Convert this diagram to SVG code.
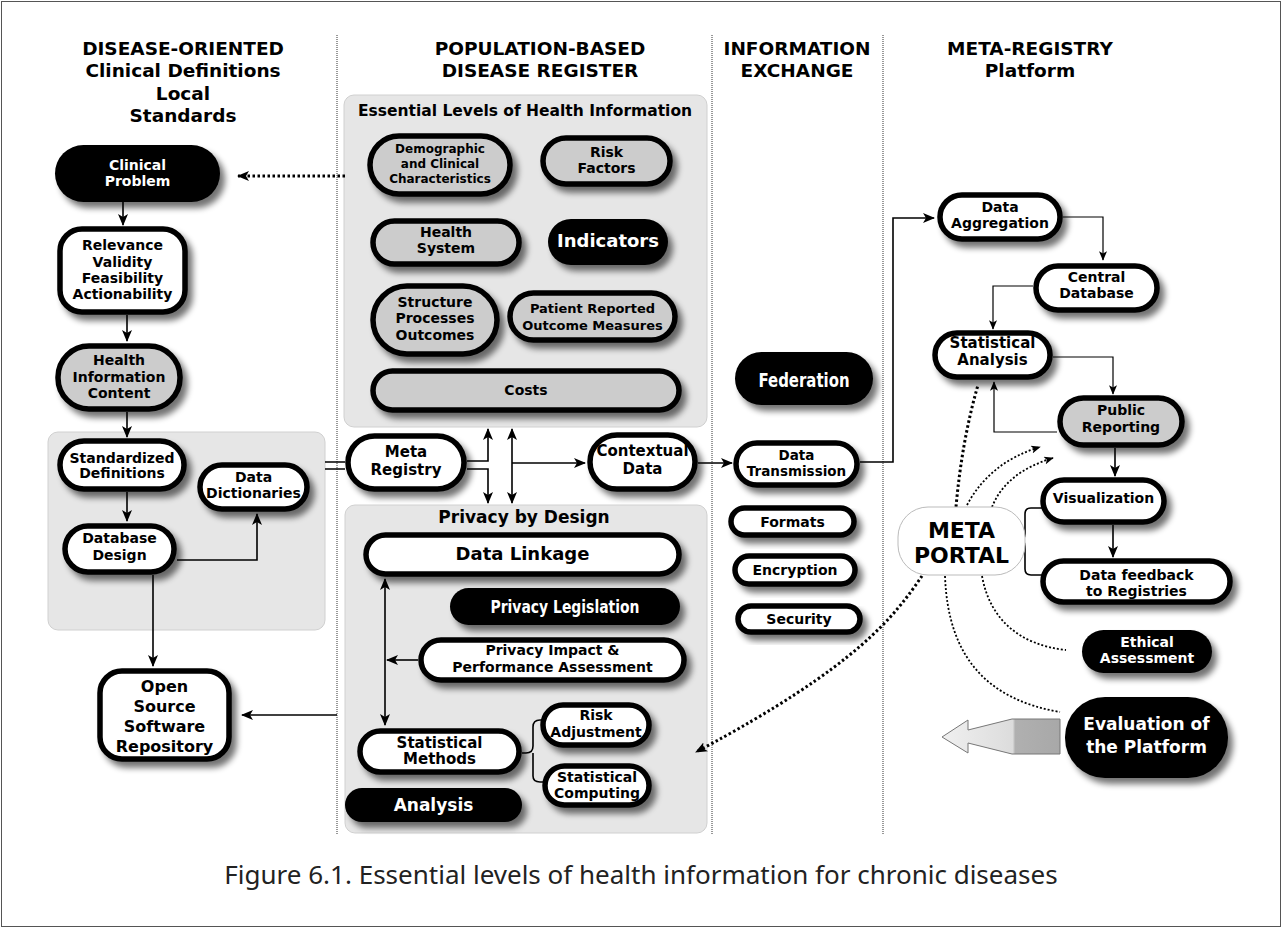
<svg xmlns="http://www.w3.org/2000/svg" width="1282" height="928" viewBox="0 0 1282 928">
<style>
.t{font-family:"DejaVu Sans","Liberation Sans",sans-serif;font-weight:bold;text-anchor:middle;fill:#000}
.tw{fill:#fff}
.w{fill:#fff;stroke:#000;stroke-width:5.5;filter:url(#sh)}
.g{fill:#cccccc;stroke:#000;stroke-width:5.5;filter:url(#sh)}
.b{fill:#000;filter:url(#sh)}
.panel{fill:#e6e6e6;stroke:#d0d0d0;stroke-width:1}
.div{stroke:#333;stroke-width:1;stroke-dasharray:1 1;fill:none}
.c{fill:none;stroke:#000;stroke-width:1.6}
.ct{fill:none;stroke:#000;stroke-width:1.2}
.dt{fill:none;stroke:#000;stroke-width:3;stroke-dasharray:2.5 2.5}
.dn{fill:none;stroke:#000;stroke-width:1.8;stroke-dasharray:2 2}
.cap{font-family:"Noto Sans","Open Sans",sans-serif;font-size:26px;text-anchor:middle;fill:#222}
</style>
<defs>
<filter id="sh" x="-20%" y="-20%" width="150%" height="170%">
<feGaussianBlur in="SourceAlpha" stdDeviation="3"/>
<feOffset dx="5" dy="6" result="o"/>
<feComponentTransfer><feFuncA type="linear" slope="0.55"/></feComponentTransfer>
<feMerge><feMergeNode/><feMergeNode in="SourceGraphic"/></feMerge>
</filter>
<marker id="ar" viewBox="0 0 12 10" refX="11" refY="5" markerWidth="12" markerHeight="10" markerUnits="userSpaceOnUse" orient="auto-start-reverse">
<path d="M0,0 L12,5 L0,10 L3,5 z" fill="#000"/>
</marker>
<marker id="as" viewBox="0 0 12 10" refX="11" refY="5" markerWidth="10" markerHeight="8" markerUnits="userSpaceOnUse" orient="auto-start-reverse">
<path d="M0,0 L12,5 L0,10 L3,5 z" fill="#000"/>
</marker>
<linearGradient id="bg" x1="942" y1="0" x2="1060" y2="0" gradientUnits="userSpaceOnUse">
<stop offset="0" stop-color="#f0f0f0"/>
<stop offset="0.6" stop-color="#dcdcdc"/>
<stop offset="0.62" stop-color="#b0b0b0"/>
<stop offset="1" stop-color="#a8a8a8"/>
</linearGradient>
</defs>
<rect x="0" y="0" width="1282" height="928" fill="#fff"/>
<rect x="1.5" y="1.5" width="1279" height="925" fill="none" stroke="#555" stroke-width="1"/>

<g id="dividers">
<line class="div" x1="337" y1="35" x2="337" y2="835"/>
<line class="div" x1="712" y1="35" x2="712" y2="835"/>
<line class="div" x1="883" y1="35" x2="883" y2="835"/>
</g>

<g id="headers" class="t" font-size="18.5">
<text x="183" y="55">DISEASE-ORIENTED</text>
<text x="183" y="77">Clinical Definitions</text>
<text x="183" y="100">Local</text>
<text x="183" y="122">Standards</text>
<text x="540" y="55">POPULATION-BASED</text>
<text x="540" y="77">DISEASE REGISTER</text>
<text x="797" y="55">INFORMATION</text>
<text x="797" y="77">EXCHANGE</text>
<text x="1030" y="55">META-REGISTRY</text>
<text x="1030" y="77">Platform</text>
</g>

<g id="panel-essential">
<rect class="panel" x="344" y="95" width="363" height="332" rx="10"/>
<text class="t" x="525" y="116" font-size="15.5">Essential Levels of Health Information</text>
</g>
<g id="panel-standards">
<rect class="panel" x="48" y="432" width="277" height="198" rx="10"/>
</g>
<g id="panel-privacy">
<rect class="panel" x="345" y="505" width="362" height="328" rx="10"/>
<text class="t" x="524" y="523" font-size="17">Privacy by Design</text>
</g>

<g id="connectors">
<path class="dt" d="M345,176 H238" marker-end="url(#ar)"/>
<path class="c" d="M123,202 V225" marker-end="url(#ar)"/>
<path class="c" d="M127,315 V341" marker-end="url(#ar)"/>
<path class="c" d="M127,412 V437" marker-end="url(#ar)"/>
<path class="c" d="M127,492 V521" marker-end="url(#ar)"/>
<path class="c" d="M177,560 H257 V514" marker-end="url(#ar)"/>
<path class="c" stroke-width="2" d="M153,575 V666" marker-end="url(#ar)"/>
<path class="c" stroke-width="2" d="M337,715 H242" marker-end="url(#ar)"/>
<path class="c" d="M325,462 H345 M325,469 H345"/>
<path class="c" stroke-width="2" d="M467,461 H488 V429" marker-end="url(#ar)"/>
<path class="c" stroke-width="2" d="M467,469 H488 V503" marker-end="url(#ar)"/>
<path class="c" stroke-width="2" d="M512,429 V503" marker-start="url(#ar)" marker-end="url(#ar)"/>
<path class="c" d="M512,463 H585" marker-end="url(#ar)"/>
<path class="c" d="M698,463 H732" marker-end="url(#ar)"/>
<path class="c" stroke-width="2" d="M385,579 V725" marker-start="url(#ar)" marker-end="url(#ar)"/>
<path class="c" d="M418,660 H387" marker-end="url(#ar)"/>
<path class="c" stroke-width="3" d="M522,753 H526 Q533,753 533,746 V727 Q533,720 540,720 H543 M533,753 Q533,760 533,765 V776 Q533,782 540,782 H545"/>
<path class="c" d="M860,462 H893 V218 H934" marker-end="url(#ar)"/>
<path class="ct" d="M1063,217 H1103 V260" marker-end="url(#as)"/>
<path class="ct" d="M1033,286 H993 V329" marker-end="url(#as)"/>
<path class="ct" d="M1053,357 H1113 V394" marker-end="url(#as)"/>
<path class="ct" d="M1057,432 H994 V382" marker-end="url(#as)"/>
<path class="c" d="M1115,448 V476" marker-end="url(#ar)"/>
<path class="c" d="M1113,525 V557" marker-end="url(#ar)"/>
<path class="c" stroke-width="3.5" d="M1042,508 H1031 Q1025,508 1025,514 V534 Q1025,540 1019,540 Q1025,540 1025,546 V569 Q1025,575 1031,575 H1042"/>
<path class="dt" d="M956,507 Q962,440 978,385"/>
<path class="dn" d="M967,505 Q990,462 1040,447" marker-end="url(#as)"/>
<path class="dn" d="M992,507 Q1006,472 1053,458" marker-end="url(#as)"/>
<path class="dt" d="M922,576 C895,615 860,665 696,752" marker-end="url(#ar)"/>
<path class="dn" d="M945,576 C948,660 990,700 1060,712"/>
<path class="dn" d="M982,576 C990,620 1020,645 1066,650"/>
<polygon points="942,737 968,720 968,730 1012,719 1060,719 1060,754 1012,754 968,743 968,753" fill="url(#bg)" stroke="#777" stroke-width="1"/>
</g>

<g id="clinical-problem"><rect class="b" x="55" y="145" width="165" height="57" rx="28.5"/>
<text class="t tw" font-size="14" x="137.5" y="170">Clinical</text><text class="t tw" font-size="14" x="137.5" y="186">Problem</text></g>
<g id="relevance"><rect class="w" x="60" y="229" width="125" height="83" rx="22"/>
<text class="t" font-size="14" x="122.5" y="250">Relevance</text><text class="t" font-size="14" x="122.5" y="267">Validity</text><text class="t" font-size="14" x="122.5" y="283">Feasibility</text><text class="t" font-size="14" x="122.5" y="299">Actionability</text></g>
<g id="health-info"><rect class="g" x="58" y="346" width="122" height="63" rx="31"/>
<text class="t" font-size="14" x="119" y="365">Health</text><text class="t" font-size="14" x="119" y="382">Information</text><text class="t" font-size="14" x="119" y="398">Content</text></g>
<g id="standardized"><rect class="w" x="60" y="441" width="124" height="48" rx="24"/>
<text class="t" font-size="14" x="122" y="463">Standardized</text><text class="t" font-size="14" x="122" y="478">Definitions</text></g>
<g id="data-dictionaries"><rect class="w" x="200" y="465" width="107" height="44" rx="22"/>
<text class="t" font-size="14" x="253.5" y="482">Data</text><text class="t" font-size="14" x="253.5" y="498">Dictionaries</text></g>
<g id="database-design"><rect class="w" x="65" y="526" width="109" height="46" rx="23"/>
<text class="t" font-size="14" x="119.5" y="543">Database</text><text class="t" font-size="14" x="119.5" y="560">Design</text></g>
<g id="open-source"><rect class="w" x="100" y="671" width="129" height="88" rx="22"/>
<text class="t" font-size="16" x="164.5" y="692">Open</text><text class="t" font-size="16" x="164.5" y="712">Source</text><text class="t" font-size="16" x="164.5" y="732">Software</text><text class="t" font-size="16" x="164.5" y="752">Repository</text></g>

<g id="demographic"><rect class="g" x="370" y="136" width="140" height="58" rx="29"/>
<text class="t" font-size="12" x="440" y="153">Demographic</text><text class="t" font-size="12" x="440" y="168">and Clinical</text><text class="t" font-size="12" x="440" y="183">Characteristics</text></g>
<g id="risk-factors"><rect class="g" x="543" y="138" width="127" height="46" rx="23"/>
<text class="t" font-size="14" x="606.5" y="157">Risk</text><text class="t" font-size="14" x="606.5" y="173">Factors</text></g>
<g id="health-system"><rect class="g" x="373" y="221" width="146" height="43" rx="21.5"/>
<text class="t" font-size="14" x="446" y="237">Health</text><text class="t" font-size="14" x="446" y="253">System</text></g>
<g id="indicators"><rect class="b" x="548" y="219" width="120" height="46" rx="23"/>
<text class="t tw" font-size="18" x="608" y="247">Indicators</text></g>
<g id="structure"><rect class="g" x="373" y="286" width="124" height="68" rx="34"/>
<text class="t" font-size="14" x="435" y="307">Structure</text><text class="t" font-size="14" x="435" y="323">Processes</text><text class="t" font-size="14" x="435" y="340">Outcomes</text></g>
<g id="prom"><rect class="g" x="510" y="293" width="165" height="47" rx="23.5"/>
<text class="t" font-size="13" x="592.5" y="313">Patient Reported</text><text class="t" font-size="13" x="592.5" y="330">Outcome Measures</text></g>
<g id="costs"><rect class="g" x="373" y="371" width="306" height="39" rx="19.5"/>
<text class="t" font-size="14" x="526" y="395">Costs</text></g>

<g id="meta-registry"><rect class="w" x="348" y="436" width="116" height="53" rx="26.5"/>
<text class="t" font-size="15" x="406" y="457">Meta</text><text class="t" font-size="15" x="406" y="475">Registry</text></g>
<g id="contextual-data"><rect class="w" x="590" y="435" width="105" height="54" rx="27"/>
<text class="t" font-size="15" x="642.5" y="456">Contextual</text><text class="t" font-size="15" x="642.5" y="474">Data</text></g>

<g id="data-linkage"><rect class="w" x="366" y="535" width="313" height="39" rx="19.5"/>
<text class="t" font-size="18" x="522.5" y="560">Data Linkage</text></g>
<g id="privacy-legislation"><rect class="b" x="450" y="588" width="230" height="37" rx="18.5"/>
<text class="t tw" font-size="18" x="565" y="613" textLength="149" lengthAdjust="spacingAndGlyphs">Privacy Legislation</text></g>
<g id="privacy-impact"><rect class="w" x="421" y="640" width="263" height="40" rx="20"/>
<text class="t" font-size="14" x="552.5" y="655">Privacy Impact &amp;</text><text class="t" font-size="14" x="552.5" y="672">Performance Assessment</text></g>
<g id="statistical-methods"><rect class="w" x="360" y="731" width="159" height="41" rx="20.5"/>
<text class="t" font-size="15" x="439.5" y="748">Statistical</text><text class="t" font-size="15" x="439.5" y="764">Methods</text></g>
<g id="risk-adjustment"><rect class="w" x="543" y="705" width="106" height="40" rx="20"/>
<text class="t" font-size="14" x="596" y="720">Risk</text><text class="t" font-size="14" x="596" y="737">Adjustment</text></g>
<g id="statistical-computing"><rect class="w" x="545" y="766" width="104" height="39" rx="19.5"/>
<text class="t" font-size="14" x="597" y="782">Statistical</text><text class="t" font-size="14" x="597" y="798">Computing</text></g>
<g id="analysis"><rect class="b" x="345" y="788" width="177" height="34" rx="17"/>
<text class="t tw" font-size="17" x="433.5" y="811">Analysis</text></g>

<g id="federation"><rect class="b" x="735" y="352" width="138" height="53" rx="26.5"/>
<text class="t tw" font-size="19" x="804" y="387" textLength="91" lengthAdjust="spacingAndGlyphs">Federation</text></g>
<g id="data-transmission"><rect class="w" x="736" y="443" width="121" height="42" rx="21"/>
<text class="t" font-size="13.5" x="796.5" y="460">Data</text><text class="t" font-size="13.5" x="796.5" y="476">Transmission</text></g>
<g id="formats"><rect class="w" x="731" y="508" width="123" height="27" rx="13.5"/>
<text class="t" font-size="14" x="792.5" y="527">Formats</text></g>
<g id="encryption"><rect class="w" x="735" y="556" width="120" height="28" rx="14"/>
<text class="t" font-size="14" x="795" y="575">Encryption</text></g>
<g id="security"><rect class="w" x="738" y="606" width="122" height="26" rx="13"/>
<text class="t" font-size="14" x="799" y="624">Security</text></g>

<g id="data-aggregation"><rect class="w" x="940" y="195" width="120" height="44" rx="22"/>
<text class="t" font-size="14" x="1000" y="212">Data</text><text class="t" font-size="14" x="1000" y="228">Aggregation</text></g>
<g id="central-database"><rect class="w" x="1036" y="266" width="121" height="44" rx="22"/>
<text class="t" font-size="14" x="1096.5" y="282">Central</text><text class="t" font-size="14" x="1096.5" y="298">Database</text></g>
<g id="statistical-analysis"><rect class="w" x="935" y="333" width="115" height="44" rx="22"/>
<text class="t" font-size="15" x="992.5" y="348">Statistical</text><text class="t" font-size="15" x="992.5" y="365">Analysis</text></g>
<g id="public-reporting"><rect class="g" x="1060" y="398" width="122" height="47" rx="23.5"/>
<text class="t" font-size="14" x="1121" y="415">Public</text><text class="t" font-size="14" x="1121" y="432">Reporting</text></g>
<g id="visualization"><rect class="w" x="1043" y="480" width="121" height="42" rx="21"/>
<text class="t" font-size="14" x="1103.5" y="503">Visualization</text></g>
<g id="data-feedback"><rect class="w" x="1043" y="561" width="187" height="41" rx="20.5"/>
<text class="t" font-size="14" x="1136.5" y="580">Data feedback</text><text class="t" font-size="14" x="1136.5" y="596">to Registries</text></g>
<g id="meta-portal"><rect x="898" y="507" width="127" height="68" rx="30" fill="#fff" stroke="#bbb" stroke-width="1"/>
<text class="t" font-size="22" x="961.5" y="538">META</text><text class="t" font-size="22" x="961.5" y="563">PORTAL</text></g>
<g id="ethical-assessment"><rect class="b" x="1082" y="630" width="130" height="43" rx="21.5"/>
<text class="t tw" font-size="14" x="1147" y="647">Ethical</text><text class="t tw" font-size="14" x="1147" y="663">Assessment</text></g>
<g id="evaluation"><rect class="b" x="1065" y="697" width="163" height="81" rx="40"/>
<text class="t tw" font-size="17" x="1146.5" y="730">Evaluation of</text><text class="t tw" font-size="17" x="1146.5" y="753">the Platform</text></g>

<text class="cap" x="641" y="884">Figure 6.1. Essential levels of health information for chronic diseases</text>
</svg>
